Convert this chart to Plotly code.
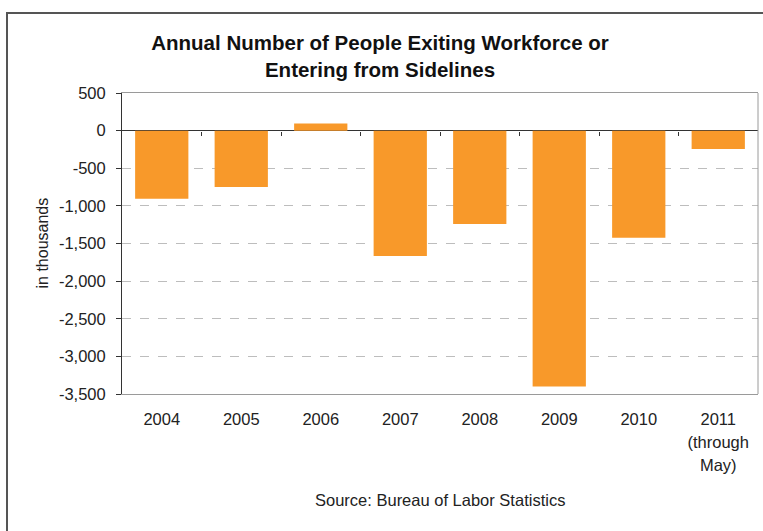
import plotly.graph_objects as go

# ---- data ----
years = ["2004", "2005", "2006", "2007", "2008", "2009", "2010", "2011<br>(through<br>May)"]
values = [-905, -750, 95, -1665, -1240, -3400, -1425, -245]
y_tick_vals = [500, 0, -500, -1000, -1500, -2000, -2500, -3000, -3500]
y_tick_labels = ["500", "0", "-500", "-1,000", "-1,500", "-2,000", "-2,500", "-3,000", "-3,500"]

title_text = "Annual Number of People Exiting Workforce or<br>Entering from Sidelines"
y_title = "in thousands"
source_text = "Source: Bureau of Labor Statistics"

BAR_COLOR = "#F8992A"
DARK = "#333333"
GRID = "#BDBDBD"
FONT = "Liberation Sans, Arial, sans-serif"

W, H = 763, 531
L, R, T, B = 122, 5, 93, 137
pw, ph = W - L - R, H - T - B

def px_x(x):
    return (x - L) / pw

def px_y(y):
    return (H - B - y) / ph

idx = list(range(len(years)))
x_ticktext = ["<span style='font-size:16.5px'>" +
              "</span><br><span style='font-size:16.5px'>".join(y.split("<br>")) +
              "</span>" for y in years]

fig = go.Figure()
fig.add_trace(go.Bar(
    x=idx, y=values, width=0.67,
    marker=dict(color=BAR_COLOR, line=dict(width=0)),
    hoverinfo="skip", showlegend=False,
))
# helper trace for the boundary tick marks on the zero line
fig.add_trace(go.Scatter(
    x=idx, y=values, xaxis="x2", mode="markers",
    marker=dict(opacity=0), hoverinfo="skip", showlegend=False,
))

fig.update_layout(
    width=W, height=H,
    margin=dict(l=L, r=R, t=T, b=B, pad=0),
    paper_bgcolor="white", plot_bgcolor="white",
    font=dict(family=FONT, color="#222222", size=16.5),
    title=dict(
        text=title_text, x=380 / W, xanchor="center", xref="container",
        y=1 - 50 / H, yanchor="top", yref="container",
        font=dict(family="Liberation Sans Narrow, Arial Narrow, Liberation Sans, sans-serif",
                  size=20.5, color="#111111", weight="bold"),
    ),
    xaxis=dict(
        type="linear", range=[-0.5, len(years) - 0.5],
        tickmode="array", tickvals=idx, ticktext=x_ticktext,
        tickfont=dict(size=18, family=FONT, color="#222222"),
        ticks="", showgrid=False, zeroline=False,
        showline=True, linecolor="#9A9A9A", linewidth=1, mirror=True,
        ticklabelstandoff=8,
        fixedrange=True,
    ),
    xaxis2=dict(
        type="linear", range=[-0.5, len(years) - 0.5], overlaying="x",
        anchor="free", position=(0 - y_tick_vals[-1]) / (y_tick_vals[0] - y_tick_vals[-1]),
        tickmode="array", tickvals=[i + 0.5 for i in idx[:-1]],
        ticks="outside", ticklen=4, tickwidth=1, tickcolor=DARK,
        showticklabels=False, showgrid=False, zeroline=False, showline=False,
        fixedrange=True,
    ),
    yaxis=dict(
        range=[y_tick_vals[-1], y_tick_vals[0]],
        tickmode="array", tickvals=y_tick_vals, ticktext=y_tick_labels,
        tickfont=dict(size=16.5, family=FONT, color="#222222"),
        ticks="outside", ticklen=5, tickwidth=1, tickcolor=DARK,
        showline=True, linecolor=DARK, linewidth=1,
        showgrid=True, gridcolor=GRID, griddash="dash", gridwidth=1,
        zeroline=True, zerolinecolor=DARK, zerolinewidth=1,
        ticklabelstandoff=7,
        fixedrange=True,
    ),
    shapes=[
        # right edge of plot area (gray)
        dict(type="line", xref="paper", yref="paper", x0=1, x1=1, y0=0, y1=1,
             line=dict(color="#9A9A9A", width=1)),
        # outer chart frame
        dict(type="rect", xref="paper", yref="paper",
             x0=px_x(7), x1=px_x(W + 6), y0=px_y(H + 10), y1=px_y(13),
             line=dict(color="#555555", width=2), fillcolor="rgba(0,0,0,0)"),
    ],
    annotations=[
        dict(text=y_title, xref="paper", yref="paper", x=px_x(42), y=0.5,
             textangle=-90, showarrow=False, xanchor="center", yanchor="middle",
             font=dict(size=16, family=FONT, color="#222222")),
        dict(text=source_text, xref="paper", yref="paper", x=px_x(440), y=px_y(500),
             showarrow=False, xanchor="center", yanchor="middle",
             font=dict(size=16.5, family=FONT, color="#222222")),
    ],
)

fig.write_html("out.html", config={"displayModeBar": False},
               post_script="document.body.style.margin='0';")
